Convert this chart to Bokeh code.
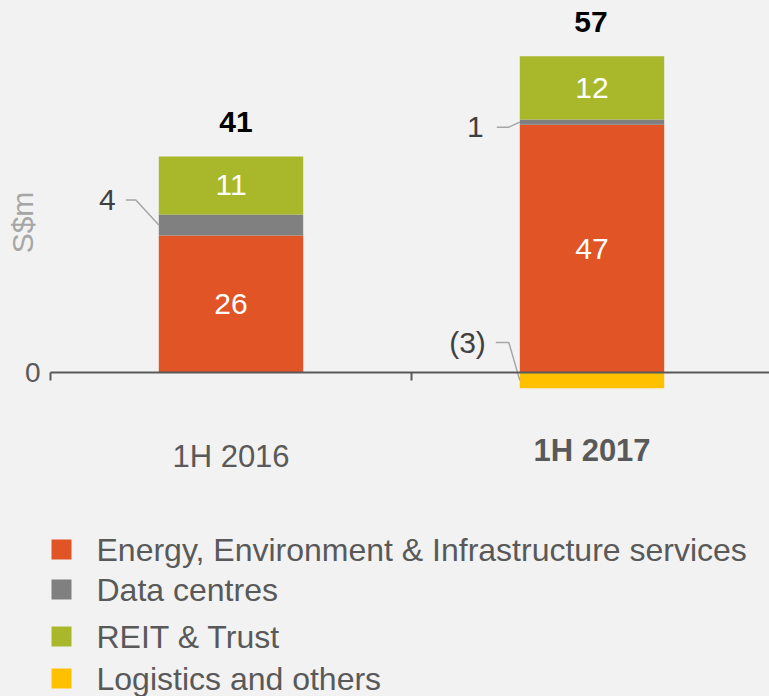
import math
from bokeh.plotting import figure
from bokeh.models import Range1d, FixedTicker, ColumnDataSource
from bokeh.embed import file_html
from bokeh.resources import INLINE
from bokeh.core.properties import value

# ---------------- data ----------------
periods = ["1H 2016", "1H 2017"]
series_names = ["Energy, Environment & Infrastructure services", "Data centres",
                "REIT & Trust", "Logistics and others"]
energy = [26, 47]
data_centres = [4, 1]
reit_trust = [11, 12]
logistics = [0, -3]
totals = [41, 57]
y_ticks = [0]
y_tick_labels = ["0"]
y_axis_title = "S$m"

# ---------------- styles / layout ----------------
colors = ["#E05426", "#808080", "#A9B82A", "#FFC000"]
BG = "#F2F2F2"
FONT = "Liberation Sans"
W, H = 769, 696
X0_REF, PX_CAT = 50, 361     # px of x=0, px per category
ZERO_REF, PX_UNIT = 372, 5.27
BAR_W = 0.4

x_start = -X0_REF / PX_CAT
x_end = (W - X0_REF) / PX_CAT
y_end = ZERO_REF / PX_UNIT
y_start = (ZERO_REF - H) / PX_UNIT

def dx(px):
    return px / PX_CAT

def dy(px):
    return px / PX_UNIT

def ref_x(px):
    return (px - X0_REF) / PX_CAT

def ref_y(px):
    return (ZERO_REF - px) / PX_UNIT

p = figure(width=W, height=H, x_range=Range1d(x_start, x_end),
           y_range=Range1d(y_start, y_end), output_backend="svg",
           toolbar_location=None, min_border_left=0, min_border_right=0,
           min_border_top=0, min_border_bottom=0, background_fill_color=BG,
           border_fill_color=BG, outline_line_color=None)
p.grid.visible = False

# x axis: zero line with boundary ticks
xa = p.xaxis[0]
xa.fixed_location = 0
xa.bounds = (0, 2)
xa.ticker = FixedTicker(ticks=[0, 1, 2])
xa.major_label_overrides = {0: "", 1: "", 2: ""}
xa.axis_line_color = "#595959"
xa.axis_line_width = 2
xa.major_tick_line_color = "#595959"
xa.major_tick_line_width = 2
xa.major_tick_out = 8
xa.major_tick_in = 0
xa.minor_tick_out = 0
xa.minor_tick_in = 0

# y axis: only "0"
ya = p.yaxis[0]
ya.fixed_location = 0
ya.ticker = FixedTicker(ticks=y_ticks)
ya.major_label_overrides = {t: l for t, l in zip(y_ticks, y_tick_labels)}
ya.axis_line_color = None
ya.major_tick_line_color = None
ya.minor_tick_line_color = None
ya.major_tick_out = 0
ya.major_tick_in = 0
ya.major_label_text_font = FONT
ya.major_label_text_font_size = "28px"
ya.major_label_text_color = "#595959"
ya.major_label_standoff = 10

# y axis title (rotated text)
p.text(x=[ref_x(22)], y=[ref_y(222)], text=[y_axis_title], angle=math.pi / 2,
       text_color="#A6A6A6", text_font=value(FONT), text_font_size="30px",
       text_align="center", text_baseline="middle")

# ---------------- bars ----------------
series = [energy, data_centres, reit_trust, logistics]
xs_c = [i + 0.5 for i in range(len(periods))]
bx, bb, bt, bc = [], [], [], []
seg = {}
for i in range(len(periods)):
    pos, neg = 0, 0
    for j, s in enumerate(series):
        v = s[i]
        if v == 0:
            continue
        if v > 0:
            b, t = pos, pos + v
            pos = t
        else:
            b, t = neg + v, neg
            neg = b
        bx.append(xs_c[i]); bb.append(b); bt.append(t); bc.append(colors[j])
        seg[(i, j)] = (b, t)
src = ColumnDataSource(dict(x=bx, bottom=bb, top=bt, color=bc))
p.vbar(x="x", width=BAR_W, bottom="bottom", top="top", fill_color="color",
       line_color=None, source=src)

def fmt(v):
    return f"({abs(v)})" if v < 0 else str(v)

# inside labels (white)
ix, iy, it = [], [], []
for (i, j), (b, t) in seg.items():
    if j in (0, 2):
        ix.append(xs_c[i]); iy.append((b + t) / 2); it.append(fmt(series[j][i]))
p.text(x=ix, y=iy, text=it, text_color="white", text_font=value(FONT),
       text_font_size="30px", text_align="center", text_baseline="middle")

# callout labels with leader lines: (label dy px above segment mid, text gap, line start, knee)
callouts = {(0, 1): (25, 43, 33, 23), (1, 1): (-5, 36, 23, 11), (1, 3): (38, 34, 24, 11)}
cx, cy, ct, lxs, lys = [], [], [], [], []
for (i, j), (ddy, gap, ls, kn) in callouts.items():
    b, t = seg[(i, j)]
    mid = (b + t) / 2
    left = xs_c[i] - BAR_W / 2
    ly = mid + dy(ddy)
    cx.append(left - dx(gap)); cy.append(ly); ct.append(fmt(series[j][i]))
    lxs.append([left - dx(ls), left - dx(kn), left])
    lys.append([ly, ly, mid])
p.multi_line(xs=lxs, ys=lys, line_color="#A6A6A6", line_width=1.5)
p.text(x=cx, y=cy, text=ct, text_color="#404040", text_font=value(FONT),
       text_font_size="30px", text_align="right", text_baseline="middle")

# totals
total_dx_px = [5, -1]
tops = [max(t for (ii, j), (b, t) in seg.items() if ii == i) for i in range(len(periods))]
p.text(x=[c + dx(o) for c, o in zip(xs_c, total_dx_px)],
       y=[t + dy(34) for t in tops], text=[str(v) for v in totals],
       text_color="black", text_font=value(FONT), text_font_size="30px",
       text_font_style="bold", text_align="center", text_baseline="middle")

# category labels
cat_dy = [84, 78]
cat_style = ["normal", "bold"]
for i, name in enumerate(periods):
    p.text(x=[xs_c[i]], y=[-dy(cat_dy[i])], text=[name], text_color="#595959",
           text_font=value(FONT), text_font_size="31px", text_font_style=cat_style[i],
           text_align="center", text_baseline="middle")

# legend
leg_rows = [549, 589, 636, 678]
p.scatter(x=[ref_x(61)] * 4, y=[ref_y(r) for r in leg_rows], marker="square", size=20,
          fill_color=colors, line_color=None)
p.text(x=[ref_x(96)] * 4, y=[ref_y(r) for r in leg_rows], text=series_names,
       text_color="#595959", text_font=value(FONT), text_font_size="32px",
       text_align="left", text_baseline="middle")

html = file_html(p, INLINE)
html = html.replace("<head>", "<head><style>body{background:#F2F2F2;}</style>", 1)
open("out.html", "w").write(html)
